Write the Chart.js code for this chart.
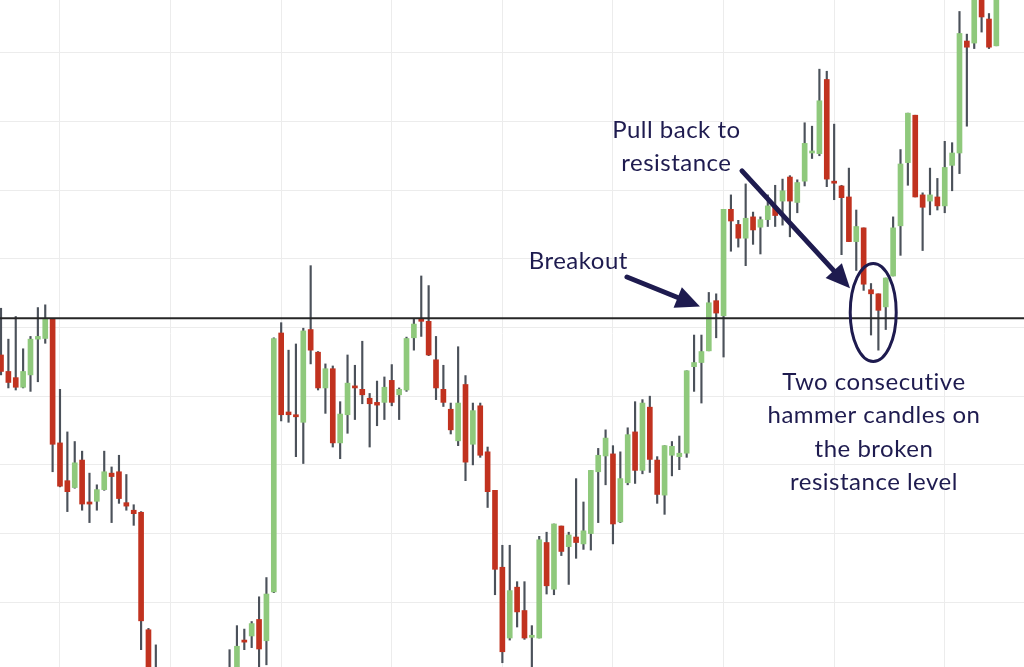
<!DOCTYPE html>
<html>
<head>
<meta charset="utf-8">
<script src="https://cdn.jsdelivr.net/npm/chart.js@4"></script>
<style>
  html, body { margin: 0; padding: 0; background: #fff; }
  #wrap { width: 1024px; height: 667px; }
</style>
</head>
<body>
<div id="wrap"><canvas id="chart"></canvas></div>
<script>
// OHLC per candle, index = position on the time axis
const open = [
  96.0, 93.6, 92.7, 91.3, 93.1, 98.3, 98.4, 101.2, 83.2, 77.7,
  76.7, 80.7, 74.6, 74.7, 76.4, 78.8, 79.0, 74.5, 73.4, 73.1,
  56.0, 50.0, 46.5, 43.0, 41.5, 43.5, 45.0, 44.0, 46.0, 47.5,
  46.5, 48.5, 50.2, 54.5, 55.1, 57.5, 54.4, 61.5, 99.2, 87.7,
  87.3, 86.2, 99.7, 96.4, 91.2, 94.0, 83.2, 87.3, 91.5, 91.0,
  89.7, 89.1, 89.1, 92.3, 90.2, 90.9, 98.5, 101.2, 100.9, 95.3,
  91.0, 88.1, 83.5, 91.7, 83.0, 88.6, 81.9, 76.3, 65.1, 54.8,
  62.2, 58.8, 54.9, 54.8, 68.7, 61.9, 71.1, 68.1, 69.5, 68.5,
  70.0, 79.0, 81.3, 81.6, 71.7, 77.4, 84.8, 79.2, 88.4, 80.7,
  75.6, 81.4, 81.2, 81.7, 94.3, 94.9, 96.6, 103.9, 101.7, 117.2,
  115.0, 113.0, 116.1, 114.6, 115.7, 117.5, 118.4, 121.9, 118.2, 121.3,
  125.4, 125.3, 136.1, 121.3, 120.6, 119.0, 112.5, 114.5, 105.5, 104.9,
  103.0, 107.5, 114.8, 124.0, 130.9, 119.3, 118.4, 119.0, 117.7, 123.6,
  125.4, 141.7, 141.4, 151.0, 144.9, 141.0
]
const high = [
  102.8, 98.3, 101.6, 96.9, 98.7, 102.9, 103.3, 101.3, 91.0, 84.8,
  83.4, 82.0, 78.8, 77.1, 82.0, 79.7, 81.4, 78.6, 74.2, 73.2,
  56.2, 53.8, 48.5, 45.0, 44.0, 46.0, 47.0, 46.5, 48.0, 49.5,
  49.0, 53.1, 56.6, 56.1, 57.2, 60.8, 63.6, 98.5, 100.7, 96.7,
  97.6, 99.9, 109.0, 96.5, 94.7, 94.4, 89.2, 96.0, 94.5, 98.0,
  90.4, 92.2, 92.8, 94.6, 91.2, 98.6, 101.2, 107.5, 106.1, 98.7,
  94.5, 89.0, 97.2, 93.0, 89.0, 89.0, 82.6, 76.3, 68.3, 68.3,
  63.0, 63.0, 56.6, 69.6, 70.2, 71.4, 71.1, 70.2, 78.0, 74.6,
  79.2, 82.4, 85.1, 82.8, 81.9, 85.4, 89.2, 89.5, 90.0, 81.2,
  82.8, 83.4, 84.2, 93.7, 98.9, 98.9, 105.1, 104.9, 117.2, 119.3,
  115.6, 120.9, 116.8, 116.1, 119.3, 120.7, 121.6, 122.1, 121.5, 129.8,
  129.3, 137.6, 137.3, 129.6, 120.7, 123.2, 117.1, 114.5, 106.4, 104.9,
  107.2, 116.1, 125.9, 131.2, 130.9, 119.6, 123.2, 121.7, 127.1, 126.9,
  146.0, 142.7, 152.0, 155.0, 145.7, 158.0
]
const low = [
  93.1, 91.2, 90.9, 91.2, 90.7, 92.1, 97.7, 79.0, 76.8, 73.2,
  76.6, 73.4, 71.6, 73.4, 76.3, 71.6, 74.4, 73.4, 71.2, 53.1,
  47.0, 45.0, 42.0, 40.0, 40.0, 42.0, 43.0, 43.0, 44.5, 46.0,
  45.5, 47.0, 49.5, 53.1, 53.4, 50.0, 50.9, 61.4, 86.4, 86.2,
  81.2, 80.2, 94.7, 90.9, 87.5, 82.6, 80.9, 84.6, 86.6, 88.9,
  82.6, 85.7, 86.6, 88.6, 86.6, 90.7, 96.7, 98.7, 95.9, 89.5,
  88.5, 84.5, 82.8, 77.7, 80.0, 81.1, 73.8, 61.1, 51.2, 54.5,
  56.4, 54.6, 50.6, 54.8, 61.2, 61.1, 66.8, 62.6, 66.4, 67.7,
  67.6, 71.6, 77.1, 68.5, 71.6, 77.1, 77.3, 78.7, 78.9, 74.4,
  72.8, 78.4, 79.3, 81.1, 90.7, 89.0, 96.6, 98.5, 95.7, 111.1,
  111.7, 109.0, 112.1, 110.7, 114.7, 114.7, 114.9, 113.2, 116.7, 120.6,
  124.6, 125.0, 120.5, 118.6, 110.6, 112.5, 108.3, 105.4, 98.9, 96.7,
  99.7, 107.5, 110.5, 120.7, 119.0, 111.2, 116.4, 117.1, 116.7, 119.9,
  122.4, 129.3, 140.6, 143.0, 140.6, 141.0
]
const close = [
  93.6, 92.0, 91.3, 93.6, 98.3, 98.7, 101.2, 83.0, 76.9, 76.1,
  80.3, 74.3, 74.3, 76.4, 79.0, 78.3, 75.1, 74.0, 72.9, 57.3,
  49.0, 46.5, 43.0, 41.5, 43.5, 45.0, 44.0, 46.0, 47.5, 46.5,
  48.5, 50.2, 53.6, 54.2, 56.9, 53.2, 61.2, 98.4, 87.3, 87.3,
  87.0, 99.5, 96.7, 91.2, 94.0, 83.2, 87.4, 91.9, 91.2, 90.2,
  88.9, 88.7, 91.3, 89.1, 91.0, 98.4, 100.5, 100.9, 96.0, 91.2,
  89.1, 85.1, 89.0, 80.4, 87.9, 81.4, 76.1, 64.8, 52.8, 61.7,
  58.6, 54.8, 55.2, 69.1, 62.4, 71.4, 67.4, 69.8, 68.7, 70.4,
  79.2, 81.4, 83.9, 71.4, 78.0, 84.4, 79.2, 89.0, 80.8, 75.7,
  82.8, 82.7, 81.7, 93.7, 94.9, 96.5, 103.6, 102.1, 117.2, 115.5,
  113.0, 115.9, 114.2, 115.7, 117.7, 116.3, 119.9, 118.4, 121.1, 126.8,
  125.7, 133.0, 121.6, 121.0, 118.9, 112.5, 114.7, 106.3, 104.9, 102.5,
  107.2, 114.5, 123.8, 131.2, 119.0, 117.5, 119.3, 117.7, 123.3, 125.4,
  142.8, 140.8, 150.0, 145.2, 140.8, 156.0
]

const resistance = 101.35
const gridCols = [8, 23, 38, 53, 68, 83, 98, 113, 128]
const gridRows = [60, 70, 80, 90, 100, 110, 120, 130, 140]

const GREEN = '#8fc97c'
const RED = '#c1321f'
const WICK = '#4b515a'
const INK = '#1e1b4f'

const bodies = open.map((o, i) => ({ x: i, y: [o, close[i]] }))
const wicks = low.map((l, i) => ({ x: i, y: [l, high[i]] }))
const colors = open.map((o, i) => close[i] >= o ? GREEN : RED)

// hand-drawn notes, anchored in data space
const notes = {
  texts: [
    { x: 78.3, y: 109.6, lines: ['Breakout'] },
    { x: 91.6, y: 128.7, lines: ['Pull back to', 'resistance'] },
    { x: 118.4, y: 92.0, lines: ['Two consecutive', 'hammer candles on', 'the broken', 'resistance level'] }
  ],
  arrows: [
    { from: [84.9, 107.35], to: [94.8, 103.05] },
    { from: [100.5, 122.8], to: [115.15, 105.7] }
  ],
  ring: { x: 118.3, y: 102.2, rx: 23, ry: 49 }
}

function arrow(ctx, x1, y1, x2, y2) {
  const a = Math.atan2(y2 - y1, x2 - x1), head = 24, half = 11
  const bx = x2 - head * Math.cos(a), by = y2 - head * Math.sin(a)
  ctx.lineWidth = 5
  ctx.lineCap = 'round'
  ctx.beginPath()
  ctx.moveTo(x1, y1)
  ctx.lineTo(bx, by)
  ctx.stroke()
  ctx.beginPath()
  ctx.moveTo(x2, y2)
  ctx.lineTo(bx - half * Math.sin(a), by + half * Math.cos(a))
  ctx.lineTo(bx + half * Math.sin(a), by - half * Math.cos(a))
  ctx.closePath()
  ctx.fill()
}

const notesPlugin = {
  id: 'notes',
  afterDatasetsDraw(chart) {
    const { ctx, scales: { x, y } } = chart
    ctx.save()
    ctx.strokeStyle = INK
    ctx.fillStyle = INK
    ctx.font = '24px Lato'
    ctx.letterSpacing = '0.5px'
    ctx.textAlign = 'center'
    ctx.textBaseline = 'middle'
    notes.texts.forEach(t => {
      t.lines.forEach((line, k) => {
        ctx.fillText(line, x.getPixelForValue(t.x), y.getPixelForValue(t.y) + k * 33.3)
      })
    })
    notes.arrows.forEach(a => {
      arrow(ctx, x.getPixelForValue(a.from[0]), y.getPixelForValue(a.from[1]),
        x.getPixelForValue(a.to[0]), y.getPixelForValue(a.to[1]))
    })
    const r = notes.ring
    ctx.lineWidth = 3
    ctx.beginPath()
    ctx.ellipse(x.getPixelForValue(r.x), y.getPixelForValue(r.y), r.rx, r.ry, 0, 0, Math.PI * 2)
    ctx.stroke()
    ctx.restore()
  }
}

new Chart(document.getElementById('chart'), {
  type: 'bar',
  data: {
    datasets: [{
      type: 'line',
      data: [{ x: -1, y: resistance }, { x: 140, y: resistance }],
      borderColor: '#262626',
      borderWidth: 2,
      pointRadius: 0,
      order: 0
    }, {
      data: bodies,
      backgroundColor: colors,
      barThickness: 5,
      minBarLength: 2,
      grouped: false,
      order: 1
    }, {
      data: wicks,
      backgroundColor: WICK,
      barThickness: 1.5,
      grouped: false,
      order: 2
    }]
  },
  options: {
    animation: false,
    responsive: true,
    maintainAspectRatio: false,
    events: [],
    layout: { padding: 0 },
    plugins: {
      legend: { display: false },
      tooltip: { enabled: false }
    },
    scales: {
      x: {
        type: 'linear',
        min: -0.136,
        max: 138.75,
        offset: false,
        ticks: { display: false },
        border: { display: false },
        grid: { color: '#ececec', drawTicks: false, offset: false },
        afterBuildTicks: s => { s.ticks = gridCols.map(v => ({ value: v })) }
      },
      y: {
        min: 50.58,
        max: 147.67,
        ticks: { display: false },
        border: { display: false },
        grid: { color: '#ececec', drawTicks: false },
        afterBuildTicks: s => { s.ticks = gridRows.map(v => ({ value: v })) }
      }
    }
  },
  plugins: [notesPlugin]
})
</script>
</body>
</html>
